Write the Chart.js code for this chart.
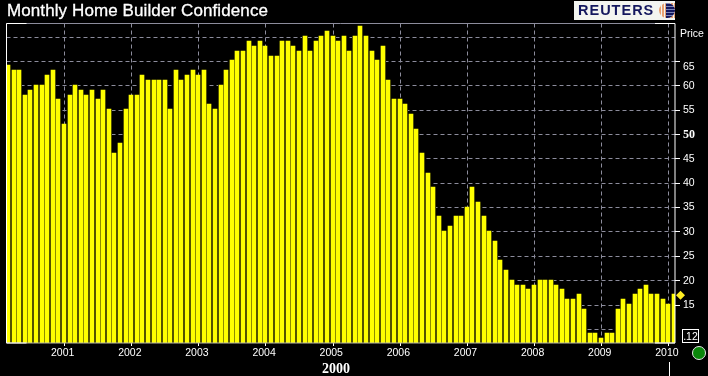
<!DOCTYPE html>
<html>
<head>
<meta charset="utf-8">
<script src="https://cdn.jsdelivr.net/npm/chart.js@4/dist/chart.umd.min.js"></script>
<style>
    html, body { margin: 0; padding: 0; background: #000; }
    #wrap { position: relative; width: 708px; height: 376px; overflow: hidden; background: #000; }
    #wrap canvas { position: absolute; left: 0; top: 0; }
    .title { position: absolute; left: 7px; top: 1px; color: #fff; font: 17px/20px "Liberation Sans", sans-serif; white-space: nowrap; letter-spacing: 0.1px; -webkit-text-stroke: 0.3px #fff; }
    .logo { position: absolute; left: 574px; top: 1px; width: 101px; height: 19px; background: #f3f5f0; }
    .logo span { position: absolute; left: 4px; top: 0px; color: #14185e; font: bold 14.5px/19px "Liberation Sans", sans-serif; letter-spacing: 1px; }
    .globe { position: absolute; left: 85px; top: 2px; width: 16px; height: 15px; border-radius: 50% 0 0 50%;
             background: repeating-linear-gradient(90deg, #e8a070 0 2px, #f3f5f0 2px 3px); }
    .globe i { position: absolute; left: 7px; top: 0; width: 9px; height: 15px; border-radius: 0 8px 8px 0;
               background: repeating-linear-gradient(0deg, #14185e 0 2px, #7c86b8 2px 3px); }
    .period { position: absolute; left: 322px; top: 361px; color: #fff; font: bold 14px/15px "Liberation Serif", serif; }
    .price { position: absolute; left: 680px; top: 27px; color: #fff; font: 10.5px/13px "Liberation Sans", sans-serif; }
    .lastbox { position: absolute; left: 682px; top: 329px; width: 15px; height: 12px; border: 1px solid #fff; color: #fff;
               font: 10.5px/12px "Liberation Sans", sans-serif; text-align: center; }
    .dot { position: absolute; left: 692px; top: 346px; width: 12px; height: 12px; border-radius: 50%; background: #0a870a; border: 1px solid #e8e8e8; }
</style>
</head>
<body>
<div id="wrap">
    <canvas id="chart" width="708" height="376"></canvas>
    <div class="title">Monthly Home Builder Confidence</div>
    <div class="logo"><span>REUTERS</span><div class="globe"><i></i></div></div>
    <div class="price">Price</div>
    <div class="period">2000</div>
    <div class="lastbox">.12</div>
    <div class="dot"></div>
</div>
<script>
// first bar is March 2000, last is February 2010
const START_YEAR = 2000;
const START_MONTH = 2;

const VALUES = [
    64, 63, 63, 58, 59, 60, 60, 62, 63, 57,
    52, 58, 60, 59, 58, 59, 57, 59, 55, 46, 48, 55,
    58, 58, 62, 61, 61, 61, 61, 55, 63, 61, 62, 63,
    62, 63, 56, 55, 60, 63, 65, 67, 67, 69, 68, 69,
    68, 66, 66, 69, 69, 68, 67, 70, 67, 69, 70, 71,
    70, 69, 70, 67, 70, 72, 70, 67, 65, 68, 61, 57,
    57, 56, 54, 51, 46, 42, 39, 33, 30, 31, 33, 33,
    35, 39, 36, 33, 30, 28, 24, 22, 20, 19, 19, 18,
    19, 20, 20, 20, 19, 18, 16, 16, 17, 14, 9, 9,
    8, 9, 9, 14, 16, 15, 17, 18, 19, 17, 17, 16,
    15, 17
];

const MONTHS = VALUES.map((_, i) => {
    const m = START_MONTH + i;
    return (START_YEAR + Math.floor(m / 12)) + '-' + String(m % 12 + 1).padStart(2, '0');
});

const Y_TICKS = [10, 15, 20, 25, 30, 35, 40, 45, 50, 55, 60, 65, 70];
const Y_HIDDEN = [10, 70];
const GRID = '#8c8c9c';
const BAR_WIDTH = 4;

// keep bars on whole pixels so the gaps stay black
const snapBars = {
    id: 'snapBars',
    afterDatasetsUpdate(chart) {
        chart.getDatasetMeta(0).data.forEach(bar => {
            bar.x = Math.floor(bar.x - BAR_WIDTH / 2) + BAR_WIDTH / 2;
            bar.y = Math.round(bar.y - 1);
            bar.width = BAR_WIDTH;
        });
    },
    // grid barely shows between the bars in the original
    beforeDatasetsDraw(chart) {
        const { ctx, chartArea: a } = chart;
        ctx.save();
        ctx.fillStyle = '#000';
        chart.getDatasetMeta(0).data.forEach(bar => {
            const left = Math.max(a.left, bar.x - 3);
            ctx.fillRect(left, bar.y, Math.min(a.right, bar.x + 3) - left, a.bottom - bar.y);
        });
        ctx.restore();
    }
};

// frame, last value diamond and the line under 2010
const decorations = {
    id: 'decorations',
    afterDraw(chart) {
        const { ctx, chartArea: a, scales } = chart;
        const line = (x1, y1, x2, y2, color) => {
            ctx.strokeStyle = color;
            ctx.lineWidth = 1;
            ctx.beginPath();
            ctx.moveTo(x1, y1);
            ctx.lineTo(x2, y2);
            ctx.stroke();
        };
        ctx.save();
        line(a.left, a.top, a.right, a.top, '#8c8c9c');
        line(a.left, a.bottom, a.right, a.bottom, '#b8b8a8');
        line(a.left, a.top, a.left, a.bottom, '#fff');
        line(a.right, a.top, a.right, a.bottom, '#fff');
        line(a.left, a.top, a.left + 20, a.top, '#fff');
        line(a.right - 20, a.top, a.right, a.top, '#fff');
        line(a.left, a.bottom, a.left + 20, a.bottom, '#fff');
        line(a.right - 20, a.bottom, a.right, a.bottom, '#fff');

        const dy = scales.y.getPixelForValue(VALUES[VALUES.length - 1]);
        const dx = a.right + 5.5;
        ctx.fillStyle = '#ffee22';
        ctx.beginPath();
        ctx.moveTo(dx - 4.5, dy);
        ctx.lineTo(dx, dy - 4.5);
        ctx.lineTo(dx + 4.5, dy);
        ctx.lineTo(dx, dy + 4.5);
        ctx.closePath();
        ctx.fill();

        const xEnd = scales.x.getPixelForValue(MONTHS.indexOf('2010-01'));
        line(Math.round(xEnd) + 0.5, 362, Math.round(xEnd) + 0.5, 376, '#fff');
        ctx.restore();
    }
};

new Chart(document.getElementById('chart'), {
    type: 'bar',
    data: {
        datasets: [{
            data: VALUES.map((v, i) => ({ x: i, y: v })),
            backgroundColor: '#ffff00',
            borderWidth: 0,
            barThickness: BAR_WIDTH
        }]
    },
    options: {
        responsive: false,
        animation: false,
        layout: { padding: { left: 6.5, top: 23.5, right: 0, bottom: 0 } },
        plugins: { legend: { display: false }, tooltip: { enabled: false } },
        scales: {
            x: {
                type: 'linear',
                offset: false,
                min: -0.368,
                max: 119.13,
                afterBuildTicks: s => {
                    s.ticks = MONTHS.map((m, i) => ({ value: i, m })).filter(t => t.m.endsWith('-01')).map(t => ({ value: t.value }));
                },
                afterFit: s => { s.height = 33; },
                border: { display: false, dash: [4, 3] },
                grid: { offset: false, color: GRID, tickColor: '#fff', tickLength: 3, tickBorderDash: [] },
                ticks: {
                    color: '#fff',
                    padding: 1,
                    labelOffset: -1.8,
                    maxRotation: 0,
                    autoSkip: false,
                    font: { family: '"Liberation Sans", sans-serif', size: 10.5 },
                    callback: v => MONTHS[v].slice(0, 4)
                }
            },
            y: {
                position: 'right',
                min: 7.2,
                max: 72.8,
                afterBuildTicks: s => { s.ticks = Y_TICKS.map(v => ({ value: v })); },
                afterFit: s => { s.width = 33; },
                border: { display: false, dash: [4, 3] },
                grid: {
                    color: GRID,
                    tickLength: 5,
                    tickBorderDash: [],
                    tickColor: c => Y_HIDDEN.includes(c.tick.value) ? 'transparent' : '#fff'
                },
                ticks: {
                    color: '#fff',
                    padding: 3,
                    autoSkip: false,
                    font: c => ({
                        family: c.tick && c.tick.value === 50 ? '"Liberation Serif", serif' : '"Liberation Sans", sans-serif',
                        size: c.tick && c.tick.value === 50 ? 12 : 10.5,
                        weight: c.tick && c.tick.value === 50 ? 'bold' : 'normal',
                        lineHeight: 1
                    }),
                    // 65 sits lower than its tick, a blank line above pushes it down
                    callback: v => Y_HIDDEN.includes(v) ? '' : (v === 65 ? ['', '65'] : String(v))
                }
            }
        }
    },
    plugins: [snapBars, decorations]
});
</script>
</body>
</html>
